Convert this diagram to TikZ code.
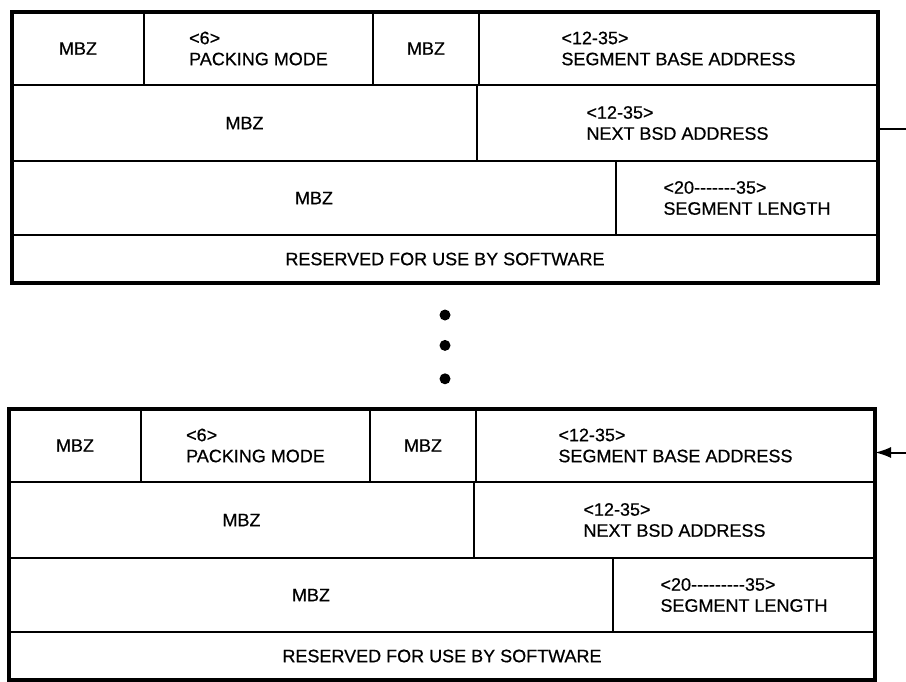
\documentclass[tikz,border=0pt]{standalone}
\usepackage{fontspec}
\setmainfont{Liberation Sans}[FakeBold=0.6]
\usetikzlibrary{arrows.meta,positioning}
\tikzset{
  cell/.style={draw, line width=2pt, inner sep=0pt, outer sep=0pt, align=left,
    font=\fontsize{18}{21}\selectfont},
  frame/.style={line width=3.2pt},
  link/.style={line width=2pt},
  linkarrow/.style={-{Latex[length=16pt,width=11pt]}, line width=2pt},
  dot/.style={circle, fill, inner sep=0pt, minimum size=11pt}
}

\begin{document}
\begin{tikzpicture}[x=1pt, y=-1pt, node distance=0pt]
\useasboundingbox (0,0) rectangle (906,681);

% first segment descriptor
\node[cell, anchor=north west, minimum width=132pt, minimum height=73pt] (t-mbz1) at (12,12) {MBZ};
\node[cell, right=of t-mbz1, minimum width=229pt, minimum height=73pt] (t-mode) {<6>\\PACKING MODE};
\node[cell, right=of t-mode, minimum width=106pt, minimum height=73pt] (t-mbz2) {MBZ};
\node[cell, right=of t-mbz2, minimum width=399pt, minimum height=73pt] (t-base) {<12-35>\\SEGMENT BASE ADDRESS};
\node[cell, below=of t-mbz1.south west, anchor=north west, minimum width=465pt, minimum height=76pt] (t-mbz3) {MBZ};
\node[cell, right=of t-mbz3, minimum width=401pt, minimum height=76pt] (t-next) {<12-35>\\NEXT BSD ADDRESS};
\node[cell, below=of t-mbz3.south west, anchor=north west, minimum width=604pt, minimum height=74pt] (t-mbz4) {MBZ};
\node[cell, right=of t-mbz4, minimum width=262pt, minimum height=74pt] (t-len) {<20-{}-{}-{}-{}-{}-{}-35>\\SEGMENT LENGTH};
\node[cell, below=of t-mbz4.south west, anchor=north west, minimum width=866pt, minimum height=48pt] (t-soft) {RESERVED FOR USE BY SOFTWARE};
\draw[frame] (t-mbz1.north west) rectangle (t-soft.south east);

% continuation dots
\node[dot] (dot1) at (445,315) {};
\node[dot, below=19pt of dot1] (dot2) {};
\node[dot, below=22pt of dot2] (dot3) {};

% last segment descriptor
\begin{scope}[shift={(-3,397)}]
\node[cell, anchor=north west, minimum width=132pt, minimum height=73pt] (b-mbz1) at (12,12) {MBZ};
\node[cell, right=of b-mbz1, minimum width=229pt, minimum height=73pt] (b-mode) {<6>\\PACKING MODE};
\node[cell, right=of b-mode, minimum width=106pt, minimum height=73pt] (b-mbz2) {MBZ};
\node[cell, right=of b-mbz2, minimum width=399pt, minimum height=73pt] (b-base) {<12-35>\\SEGMENT BASE ADDRESS};
\node[cell, below=of b-mbz1.south west, anchor=north west, minimum width=465pt, minimum height=76pt] (b-mbz3) {MBZ};
\node[cell, right=of b-mbz3, minimum width=401pt, minimum height=76pt] (b-next) {<12-35>\\NEXT BSD ADDRESS};
\node[cell, below=of b-mbz3.south west, anchor=north west, minimum width=604pt, minimum height=74pt] (b-mbz4) {MBZ};
\node[cell, right=of b-mbz4, minimum width=262pt, minimum height=74pt] (b-len) {<20-{}-{}-{}-{}-{}-{}-{}-{}-35>\\SEGMENT LENGTH};
\node[cell, below=of b-mbz4.south west, anchor=north west, minimum width=866pt, minimum height=48pt] (b-soft) {RESERVED FOR USE BY SOFTWARE};
\draw[frame] (b-mbz1.north west) rectangle (b-soft.south east);
\end{scope}

% links to the neighbouring descriptors
\coordinate[below right=6pt and 28pt of t-next.east] (t-exit);
\draw[link] (t-exit -| t-next.east) -- (t-exit);
\coordinate[below right=7pt and 31pt of b-base.east] (b-entry);
\draw[linkarrow] (b-entry) -- (b-entry -| b-base.east);
\end{tikzpicture}
\end{document}
